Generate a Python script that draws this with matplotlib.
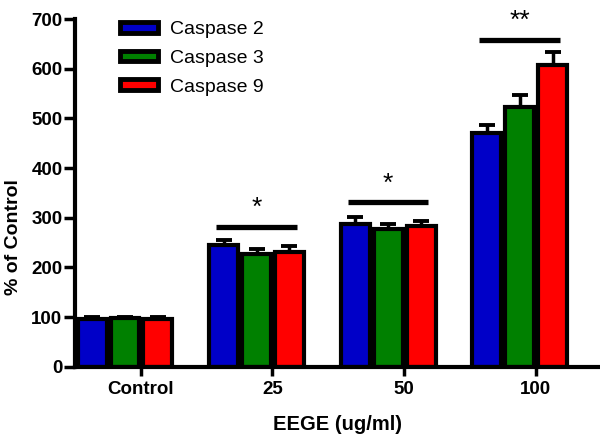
import numpy as np
import matplotlib
matplotlib.use("Agg")
import matplotlib.pyplot as plt
from matplotlib.patches import Patch

plt.rcParams['font.family'] = ['Liberation Sans', 'DejaVu Sans']

# data
doses = ["Control", "25", "50", "100"]
series = ["Caspase 2", "Caspase 3", "Caspase 9"]
colors = ["#0000C8", "#008000", "#FF0000"]
casp2 = [97, 245, 287, 471]
casp3 = [98, 226, 277, 524]
casp9 = [97, 232, 283, 607]
err2 = [3, 10, 15, 16]
err3 = [3, 11, 10, 23]
err9 = [3, 11, 10, 26]

# significance bars (group index, height, star text)
sig_groups = [1, 2, 3]
sig_heights = [281, 331, 659]
sig_stars = ["*", "*", "**"]

values = [casp2, casp3, casp9]
errors = [err2, err3, err9]

fig = plt.figure(figsize=(6, 4.36), dpi=100)
ax = fig.add_axes([0.125, 0.159, 0.875, 0.797])

x = np.arange(len(doses))
pitch = 0.25
width = 0.22
for i in range(3):
    pos = x + (i - 1) * pitch
    ax.bar(pos, values[i], width, color=colors[i], edgecolor="black",
           linewidth=3.0, zorder=2)
    low = np.zeros(len(doses))
    ax.errorbar(pos, values[i], yerr=[low, errors[i]], fmt="none",
                ecolor="black", elinewidth=2.5, capsize=5.8, capthick=2.8,
                zorder=1)

# significance lines and stars
for g, h, s in zip(sig_groups, sig_heights, sig_stars):
    ax.plot([g - 0.306, g + 0.306], [h, h], color="black", linewidth=3.8,
            solid_capstyle="butt", zorder=3)
    ax.text(g, h + 24, s, ha="center", va="baseline", fontsize=19,
            clip_on=False)

ax.set_xlim(-0.38, 3.61)
ax.set_ylim(0, 700)
ax.set_yticks(np.arange(0, 701, 100))
ax.set_xticks(x + 0.12)
ax.set_xticklabels(doses)

for side in ["top", "right"]:
    ax.spines[side].set_visible(False)
for side in ["left", "bottom"]:
    ax.spines[side].set_linewidth(3.0)

ax.tick_params(axis="y", length=8, width=2.5, pad=1, labelsize=13.5)
ax.tick_params(axis="x", length=6.5, width=2.5, pad=4, labelsize=13.5)
for lab in ax.get_xticklabels() + ax.get_yticklabels():
    lab.set_fontweight("bold")

ax.set_xlabel("EEGE (ug/ml)", fontsize=14.5, fontweight="bold", labelpad=12)
ax.set_ylabel("% of Control", fontsize=14, fontweight="bold")
ax.yaxis.set_label_coords(-0.1, 0.374)

handles = [Patch(facecolor=c, edgecolor="black", linewidth=3.5) for c in colors]
ax.legend(handles, series, loc="upper left", bbox_to_anchor=(0.086, 0.994),
          frameon=False, fontsize=14, handlelength=1.95, handleheight=0.45,
          handletextpad=0.6, labelspacing=0.6, borderpad=0, borderaxespad=0)

fig.savefig("out.png", dpi=100)
